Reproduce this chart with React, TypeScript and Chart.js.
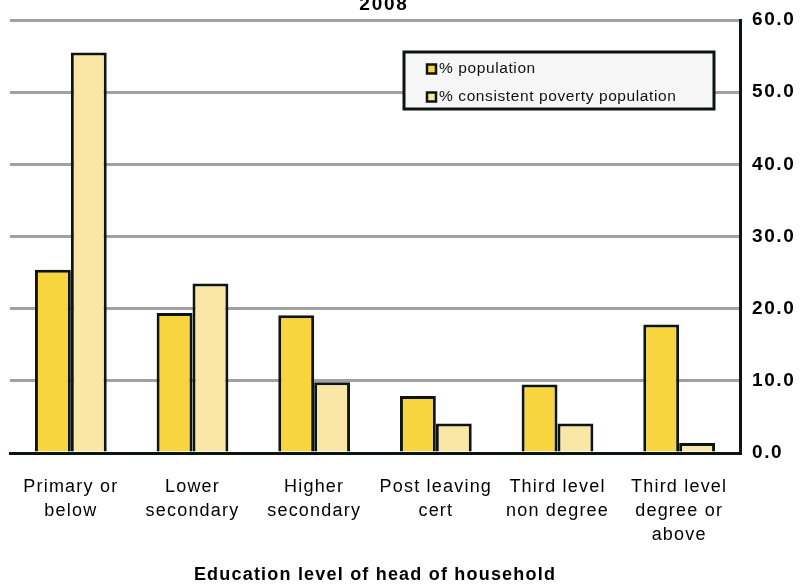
import React, { useEffect, useRef } from "react";
import { Chart, registerables } from "chart.js";

Chart.register(...registerables);

const categories: string[][] = [
  ["Primary or", "below"],
  ["Lower", "secondary"],
  ["Higher", "secondary"],
  ["Post leaving", "cert"],
  ["Third level", "non degree"],
  ["Third level", "degree or", "above"],
];
const populationPct = [25.4, 19.4, 19.1, 7.9, 9.5, 17.8];
const povertyPct = [55.5, 23.5, 9.8, 4.1, 4.1, 1.4];
const seriesNames = ["% population", "% consistent poverty population"];
const chartTitle = "2008";
const xAxisTitle = "Education level of head of household";
const yTicksMin = 0;
const yTicksMax = 60;
const yTicksStep = 10;

const FONT = "'Liberation Sans', Arial, Helvetica, sans-serif";
const COLORS = ["#F8D43E", "#FAE6A5"];
const BORDER = "#0D1512";

function withSpacing(ctx: any, spacing: string, fn: () => void) {
  const prev = ctx.letterSpacing;
  ctx.letterSpacing = spacing;
  try {
    fn();
  } finally {
    ctx.letterSpacing = prev || "0px";
  }
}

const spacingPlugin = {
  id: "spacing",
  afterUpdate(chart: any) {
    const x = chart.scales.x;
    const y = chart.scales.y;
    if (x && !x.__patched) {
      const dl = x.drawLabels.bind(x);
      const dt = x.drawTitle.bind(x);
      x.drawLabels = (a: any) => withSpacing(chart.ctx, "1.2px", () => dl(a));
      x.drawTitle = (a: any) => withSpacing(chart.ctx, "1.2px", () => dt(a));
      x.__patched = true;
    }
    if (y && !y.__patched) {
      const dl = y.drawLabels.bind(y);
      y.drawLabels = (a: any) => withSpacing(chart.ctx, "1.6px", () => dl(a));
      y.__patched = true;
    }
  },
};

const overlayPlugin = {
  id: "overlay",
  afterDatasetsDraw(chart: any) {
    const { ctx, chartArea } = chart;
    ctx.save();
    // title
    ctx.fillStyle = "#000";
    ctx.font = `bold 19px ${FONT}`;
    ctx.letterSpacing = "1.8px";
    ctx.textAlign = "center";
    ctx.textBaseline = "alphabetic";
    ctx.fillText(chartTitle, 384, 10);

    // legend box
    const bx = chartArea.left + 394;
    const by = chartArea.top + 32;
    const bw = 310;
    const bh = 57;
    ctx.fillStyle = "#F5F6F5";
    ctx.fillRect(bx, by, bw, bh);
    ctx.lineWidth = 3;
    ctx.strokeStyle = BORDER;
    ctx.strokeRect(bx, by, bw, bh);

    ctx.font = `15.5px ${FONT}`;
    ctx.letterSpacing = "0.6px";
    ctx.textAlign = "left";
    ctx.textBaseline = "middle";
    seriesNames.forEach((name, i) => {
      const cy = by + 17 + i * 28;
      const mx = bx + 23;
      ctx.fillStyle = COLORS[i];
      ctx.fillRect(mx, cy - 4.5, 9, 9);
      ctx.lineWidth = 2.5;
      ctx.strokeStyle = BORDER;
      ctx.strokeRect(mx, cy - 4.5, 9, 9);
      ctx.fillStyle = "#111";
      ctx.fillText(name, mx + 12, cy);
    });
    ctx.letterSpacing = "0px";
    ctx.restore();
  },
};

export default function App() {
  const ref = useRef<HTMLCanvasElement | null>(null);

  useEffect(() => {
    document.body.style.margin = "0";
    const canvas = ref.current;
    if (!canvas) return;
    const chart = new Chart(canvas, {
      type: "bar",
      data: {
        labels: categories,
        datasets: [
          {
            label: seriesNames[0],
            data: populationPct,
            backgroundColor: COLORS[0],
            borderColor: BORDER,
            borderWidth: 3,
            categoryPercentage: 0.59,
            barPercentage: 1.0,
          },
          {
            label: seriesNames[1],
            data: povertyPct,
            backgroundColor: COLORS[1],
            borderColor: BORDER,
            borderWidth: 3,
            categoryPercentage: 0.59,
            barPercentage: 1.0,
          },
        ],
      },
      options: {
        animation: false,
        responsive: false,
        maintainAspectRatio: false,
        layout: { padding: { left: 10, top: 20, right: 0, bottom: 0 } },
        plugins: {
          legend: { display: false },
          title: { display: false },
          tooltip: { enabled: false },
        },
        scales: {
          x: {
            grid: { display: false, drawTicks: false },
            border: { display: true, color: BORDER, width: 3 },
            ticks: {
              color: "#000",
              font: { family: FONT, size: 18, lineHeight: 1.33 },
              padding: 22,
              maxRotation: 0,
              autoSkip: false,
            },
            title: {
              display: true,
              text: xAxisTitle,
              color: "#000",
              font: { family: FONT, size: 18, weight: "bold", lineHeight: 1.0 },
              padding: { top: 0, bottom: 0 },
            },
            afterFit(scale: any) {
              scale.height = 131;
              scale.paddingLeft = 0;
              scale.paddingRight = 0;
            },
          },
          y: {
            position: "right",
            min: yTicksMin,
            max: yTicksMax,
            grid: {
              drawTicks: false,
              lineWidth: 3,
              color: (c: any) => (c.tick && c.tick.value === 0 ? "rgba(0,0,0,0)" : "#A0A0A0"),
            },
            border: { display: true, color: BORDER, width: 3 },
            ticks: {
              stepSize: yTicksStep,
              color: "#000",
              padding: 12,
              font: { family: FONT, size: 19, weight: "bold" },
              callback: (v: any) => Number(v).toFixed(1),
            },
            afterFit(scale: any) {
              scale.width = 62;
              scale.paddingTop = 0;
              scale.paddingBottom = 0;
            },
          },
        },
      },
      plugins: [spacingPlugin, overlayPlugin],
    });
    return () => chart.destroy();
  }, []);

  return (
    <div style={{ width: 802, height: 584, background: "#fff" }}>
      <canvas ref={ref} width={802} height={584} style={{ display: "block" }} />
    </div>
  );
}
